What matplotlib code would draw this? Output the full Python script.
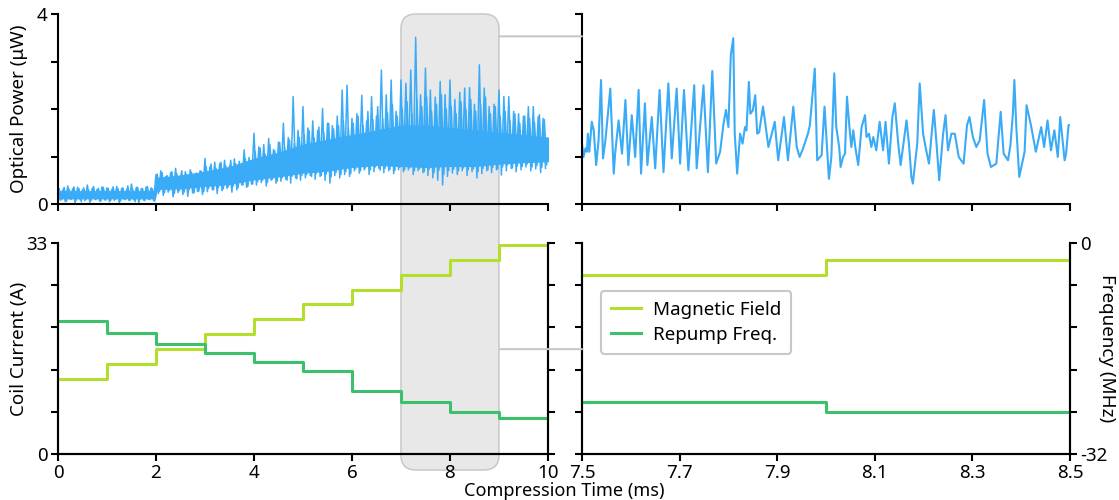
import numpy as np
import matplotlib
matplotlib.use("Agg")
import matplotlib.pyplot as plt
from matplotlib.patches import FancyBboxPatch, ConnectionPatch

plt.rcParams["font.family"] = ["Noto Sans", "DejaVu Sans"]
plt.rcParams["font.size"] = 13

BLUE = "#3aabf7"
LIME = "#b4de2c"
GREEN = "#3dc06c"
GREY = "#c8c8c8"

# ---- optical power, full 0-10 ms trace ----
# solid core of the noisy band
core_t = [0.0, 1.0, 1.98, 2.02, 2.5, 3.0, 3.5, 4.0, 4.5, 5.0, 5.5, 6.0, 6.5, 7.0, 7.5, 8.0, 8.5, 9.0, 9.5, 10.0]
core_lo = [0.12, 0.12, 0.12, 0.32, 0.33, 0.38, 0.42, 0.52, 0.58, 0.66, 0.70, 0.78, 0.82, 0.80, 0.78, 0.80, 0.80, 0.85, 0.88, 0.90]
core_hi = [0.27, 0.27, 0.27, 0.55, 0.60, 0.68, 0.78, 0.95, 1.08, 1.25, 1.35, 1.45, 1.55, 1.65, 1.65, 1.60, 1.55, 1.50, 1.45, 1.40]

# big spike extremes every 0.1 ms (highs) and half-way between (lows)
spike_hi = [
    0.33, 0.30, 0.38, 0.32, 0.35, 0.30, 0.40, 0.33, 0.31, 0.36,
    0.34, 0.31, 0.37, 0.33, 0.30, 0.42, 0.35, 0.32, 0.36, 0.34,
    0.62, 0.70, 0.58, 0.66, 0.75, 0.60, 0.68, 0.72, 0.63, 0.70,
    0.96, 0.78, 0.88, 0.85, 0.92, 0.80, 0.95, 0.90, 1.14, 0.98,
    1.49, 1.20, 1.25, 1.38, 1.15, 1.30, 1.70, 1.40, 2.26, 1.55,
    2.05, 1.60, 1.75, 1.55, 2.01, 1.70, 1.65, 1.85, 2.40, 2.50,
    1.80, 1.90, 2.29, 1.75, 2.26, 1.85, 2.82, 2.30, 2.61, 1.95,
    2.61, 2.54, 2.82, 3.51, 2.30, 2.86, 2.40, 2.25, 2.58, 2.30,
    2.61, 2.20, 2.35, 2.44, 2.45, 2.10, 2.93, 2.44, 2.05, 2.10,
    2.40, 2.26, 2.26, 1.95, 1.90, 1.85, 2.05, 2.05, 1.84, 1.80,
]
spike_lo = [
    0.08, 0.05, 0.10, 0.02, 0.09, 0.07, 0.03, 0.10, 0.06, 0.09,
    0.05, 0.08, 0.03, 0.10, 0.07, 0.09, 0.02, 0.08, 0.10, 0.07,
    0.22, 0.18, 0.25, 0.15, 0.24, 0.20, 0.16, 0.23, 0.26, 0.20,
    0.26, 0.30, 0.22, 0.28, 0.33, 0.25, 0.30, 0.40, 0.35, 0.42,
    0.40, 0.45, 0.38, 0.50, 0.44, 0.48, 0.52, 0.44, 0.55, 0.50,
    0.55, 0.60, 0.52, 0.58, 0.50, 0.44, 0.60, 0.55, 0.62, 0.58,
    0.70, 0.65, 0.72, 0.62, 0.68, 0.75, 0.66, 0.70, 0.64, 0.72,
    0.68, 0.72, 0.62, 0.70, 0.66, 0.60, 0.55, 0.50, 0.40, 0.58,
    0.65, 0.62, 0.70, 0.60, 0.68, 0.55, 0.64, 0.70, 0.66, 0.72,
    0.61, 0.70, 0.75, 0.68, 0.72, 0.78, 0.70, 0.74, 0.66, 0.75,
]
# smaller ripple on the band edges, offset by a quarter step
ripple_hi = [
    0.32, 0.35, 0.31, 0.36, 0.33, 0.34, 0.30, 0.37, 0.33, 0.35,
    0.33, 0.36, 0.32, 0.34, 0.38, 0.31, 0.35, 0.33, 0.37, 0.32,
    0.63, 0.66, 0.60, 0.68, 0.64, 0.70, 0.62, 0.67, 0.65, 0.69,
    0.78, 0.84, 0.75, 0.88, 0.80, 0.92, 0.85, 0.82, 0.95, 0.90,
    1.10, 1.18, 1.05, 1.25, 1.12, 1.30, 1.20, 1.35, 1.28, 1.40,
    1.45, 1.55, 1.40, 1.62, 1.50, 1.70, 1.58, 1.65, 1.75, 1.60,
    1.70, 1.85, 1.65, 1.95, 1.78, 2.05, 1.80, 1.92, 2.10, 1.85,
    2.00, 2.15, 1.90, 2.20, 2.05, 2.25, 1.95, 2.10, 2.30, 2.00,
    2.05, 1.90, 2.15, 2.00, 2.20, 1.95, 2.10, 2.25, 1.90, 2.05,
    1.85, 1.95, 1.75, 1.90, 1.70, 1.85, 1.80, 1.72, 1.88, 1.78,
]
ripple_lo = [
    0.09, 0.06, 0.10, 0.08, 0.05, 0.10, 0.07, 0.09, 0.06, 0.08,
    0.07, 0.10, 0.06, 0.09, 0.08, 0.05, 0.10, 0.07, 0.09, 0.06,
    0.27, 0.24, 0.29, 0.22, 0.28, 0.25, 0.30, 0.23, 0.27, 0.26,
    0.33, 0.30, 0.35, 0.32, 0.36, 0.38, 0.34, 0.40, 0.37, 0.42,
    0.47, 0.50, 0.45, 0.52, 0.48, 0.55, 0.50, 0.58, 0.53, 0.60,
    0.62, 0.58, 0.65, 0.60, 0.63, 0.57, 0.66, 0.62, 0.68, 0.64,
    0.74, 0.70, 0.76, 0.72, 0.78, 0.71, 0.75, 0.73, 0.70, 0.77,
    0.72, 0.76, 0.70, 0.74, 0.68, 0.73, 0.66, 0.71, 0.62, 0.70,
    0.73, 0.70, 0.76, 0.72, 0.74, 0.68, 0.75, 0.72, 0.77, 0.74,
    0.78, 0.82, 0.76, 0.80, 0.79, 0.84, 0.78, 0.81, 0.77, 0.83,
]

# ---- optical power, zoomed 7.5-8.5 ms trace ----
zoom_t = [
    7.500, 7.503, 7.507, 7.510, 7.512, 7.515, 7.520, 7.524, 7.529, 7.534,
    7.539, 7.543, 7.548, 7.558, 7.565, 7.568, 7.575, 7.582, 7.589, 7.595,
    7.602, 7.609, 7.616, 7.621, 7.629, 7.634, 7.643, 7.650, 7.659, 7.667,
    7.677, 7.684, 7.694, 7.701, 7.709, 7.718, 7.730, 7.735, 7.749, 7.758,
    7.767, 7.775, 7.783, 7.790, 7.795, 7.800, 7.805, 7.810, 7.813, 7.818,
    7.824, 7.829, 7.834, 7.837, 7.842, 7.845, 7.850, 7.855, 7.859, 7.863,
    7.871, 7.882, 7.895, 7.902, 7.914, 7.922, 7.933, 7.940, 7.946, 7.953,
    7.963, 7.967, 7.977, 7.982, 7.991, 7.997, 8.006, 8.011, 8.017, 8.021,
    8.027, 8.030, 8.035, 8.039, 8.043, 8.048, 8.052, 8.056, 8.060, 8.066,
    8.073, 8.080, 8.083, 8.088, 8.093, 8.097, 8.103, 8.110, 8.117, 8.122,
    8.129, 8.136, 8.141, 8.148, 8.153, 8.165, 8.170, 8.175, 8.178, 8.187,
    8.192, 8.199, 8.204, 8.211, 8.221, 8.226, 8.232, 8.240, 8.245, 8.250,
    8.257, 8.264, 8.272, 8.282, 8.289, 8.294, 8.301, 8.308, 8.315, 8.324,
    8.331, 8.338, 8.349, 8.358, 8.364, 8.373, 8.378, 8.383, 8.386, 8.390,
    8.396, 8.407, 8.411, 8.420, 8.430, 8.441, 8.447, 8.454, 8.461, 8.468,
    8.475, 8.480, 8.489, 8.492, 8.497, 8.500,
]
zoom_p = [
    1.27, 0.99, 1.17, 1.10, 1.48, 1.10, 1.73, 1.55, 0.82, 1.34,
    2.61, 0.96, 1.34, 2.43, 0.64, 1.07, 1.76, 1.06, 2.19, 0.82,
    1.87, 0.99, 2.40, 0.64, 2.12, 0.82, 1.83, 0.75, 2.40, 0.67,
    2.54, 0.96, 2.43, 0.85, 2.40, 0.71, 2.50, 0.75, 2.50, 0.67,
    2.80, 0.85, 1.10, 1.69, 1.98, 1.62, 3.14, 3.49, 1.48, 0.64,
    1.48, 1.27, 1.62, 1.55, 2.57, 1.90, 1.97, 2.29, 1.48, 1.51,
    2.05, 1.20, 1.73, 0.92, 1.83, 0.92, 2.05, 1.20, 0.99, 1.17,
    1.48, 1.66, 2.85, 0.92, 1.03, 2.05, 0.53, 0.99, 2.75, 1.62,
    1.20, 0.78, 0.99, 1.06, 2.26, 1.62, 1.20, 1.55, 1.20, 0.82,
    1.62, 1.87, 1.41, 1.48, 1.20, 1.41, 1.13, 1.73, 1.13, 1.73,
    0.85, 1.83, 2.12, 1.27, 0.82, 1.76, 1.27, 0.57, 0.43, 1.27,
    2.54, 1.48, 1.20, 0.85, 1.98, 1.34, 0.50, 1.48, 1.87, 1.13,
    1.48, 1.48, 0.99, 0.85, 1.66, 1.83, 1.41, 1.20, 1.34, 2.19,
    1.06, 0.78, 0.85, 1.94, 1.06, 0.92, 1.24, 1.91, 2.61, 1.62,
    0.57, 1.10, 2.08, 1.66, 1.10, 1.62, 1.20, 1.76, 1.13, 1.55,
    0.99, 1.83, 0.92, 1.06, 1.66, 1.66,
]

# ---- control sequences, one value per 1 ms step ----
step_t = [0, 1, 2, 3, 4, 5, 6, 7, 8, 9, 10]
coil_current = [11.7, 14.0, 16.4, 18.7, 21.1, 23.4, 25.7, 28.0, 30.3, 32.65]
repump_freq = [-11.9, -13.6, -15.3, -16.7, -18.1, -19.4, -22.4, -24.1, -25.7, -26.5]

zoom_range = (7, 9)
FS = 13.5

fig = plt.figure(figsize=(11.19, 5.0), dpi=100)
ax_tl = fig.add_axes([0.0518, 0.592, 0.4379, 0.380])
ax_tr = fig.add_axes([0.5201, 0.592, 0.4361, 0.380])
ax_bl = fig.add_axes([0.0518, 0.092, 0.4379, 0.422])
ax_br = fig.add_axes([0.5201, 0.092, 0.4361, 0.422])
tw_bl = ax_bl.twinx()
tw_br = ax_br.twinx()

for ax in [ax_tl, ax_tr, ax_bl, ax_br, tw_bl, tw_br]:
    ax.set_facecolor("none")
    for s in ax.spines.values():
        s.set_linewidth(1.5)
    ax.tick_params(width=1.5, length=5, pad=2.5, direction="out", labelsize=FS)
for ax in [ax_tl, ax_tr]:
    ax.spines["top"].set_visible(False)
    ax.spines["right"].set_visible(False)
for ax in [ax_bl, ax_br, tw_bl, tw_br]:
    ax.spines["top"].set_visible(False)

# top left: full trace
hi_t = np.arange(len(spike_hi)) * 0.1
zig_t = np.column_stack([hi_t, hi_t + 0.05]).ravel()
zig_p = np.column_stack([spike_hi, spike_lo]).ravel()
rip_t = np.column_stack([hi_t + 0.025, hi_t + 0.075]).ravel()
rip_p = np.column_stack([ripple_hi, ripple_lo]).ravel()
ax_tl.fill_between(core_t, core_lo, core_hi, color=BLUE, lw=0.8, edgecolor=BLUE)
ax_tl.plot(rip_t, rip_p, color=BLUE, lw=1.1)
ax_tl.plot(zig_t, zig_p, color=BLUE, lw=1.1)
ax_tl.set_xlim(0, 10)
ax_tl.set_ylim(0, 4)
ax_tl.set_xticks(range(0, 11, 2))
ax_tl.set_xticklabels([])
ax_tl.set_yticks([0, 1, 2, 3, 4])
ax_tl.set_yticklabels(["0", "", "", "", "4"])
ax_tl.set_ylabel("Optical Power (μW)", fontsize=FS, va="center")
ax_tl.yaxis.set_label_coords(-0.08, 0.5)

# top right: zoomed trace
ax_tr.plot(zoom_t, zoom_p, color=BLUE, lw=1.5)
ax_tr.set_xlim(7.5, 8.5)
ax_tr.set_ylim(0, 4)
ax_tr.set_xticks(np.arange(7.5, 8.51, 0.2))
ax_tr.set_xticklabels([])
ax_tr.set_yticks([0, 1, 2, 3, 4])
ax_tr.set_yticklabels([])

# bottom: step sequences
freq_ticks = np.linspace(-32, 0, 6)
cur_ticks = np.linspace(0, 33, 6)
for ax, tw, xl in [(ax_bl, tw_bl, (0, 10)), (ax_br, tw_br, (7.5, 8.5))]:
    l1, = ax.step(step_t, coil_current + coil_current[-1:], where="post",
                  color=LIME, lw=2.2, label="Magnetic Field")
    l2, = tw.step(step_t, repump_freq + repump_freq[-1:], where="post",
                  color=GREEN, lw=2.2, label="Repump Freq.")
    ax.set_xlim(*xl)
    ax.set_ylim(0, 33)
    tw.set_ylim(-32, 0)
    ax.set_yticks(cur_ticks)
    tw.set_yticks(freq_ticks)
    tw.set_yticklabels([])

ax_bl.set_yticklabels(["0", "", "", "", "", "33"])
ax_bl.set_ylabel("Coil Current (A)", fontsize=FS, va="center")
ax_bl.yaxis.set_label_coords(-0.08, 0.5)
ax_bl.set_xticks(range(0, 11, 2))
ax_br.set_yticklabels([])
ax_br.set_xticks(np.arange(7.5, 8.51, 0.2))
ax_br.set_xticklabels(["7.5", "7.7", "7.9", "8.1", "8.3", "8.5"])
tw_br.set_yticklabels(["-32", "", "", "", "", "0"])
tw_br.set_ylabel("Frequency (MHz)", rotation=270, va="center", fontsize=FS)
tw_br.yaxis.set_label_coords(1.075, 0.5)

leg = tw_br.legend(handles=[l1, l2], loc="lower left", bbox_to_anchor=(0.02, 0.43),
                   fontsize=FS, frameon=True, fancybox=True, handlelength=1.6,
                   borderpad=0.55, labelspacing=0.35, handletextpad=0.6)
leg.get_frame().set_edgecolor(GREY)
leg.get_frame().set_linewidth(1.5)
leg.get_frame().set_alpha(1)

fig.text(0.504, 0.0, "Compression Time (ms)", ha="center", va="bottom", fontsize=13)

# shaded zoom window spanning both rows
x0 = ax_tl.transData.transform((zoom_range[0], 0))[0]
x1 = ax_tl.transData.transform((zoom_range[1], 0))[0]
y_top = ax_tl.transData.transform((0, 4))[1]
y_bot = ax_bl.transAxes.transform((0, 0))[1] - 16
box = FancyBboxPatch((x0, y_bot), x1 - x0, y_top - y_bot,
                     boxstyle="round,pad=0,rounding_size=15", transform=None,
                     facecolor="#e8e8e8", edgecolor=GREY, lw=1.1, zorder=-1)
fig.patches.append(box)

for a, b, yv in [(ax_tl, ax_tr, 3.53), (ax_bl, ax_br, 16.4)]:
    con = ConnectionPatch(xyA=(zoom_range[1], yv), coordsA=a.transData,
                          xyB=(7.5, yv), coordsB=b.transData,
                          color=GREY, lw=1.5)
    fig.add_artist(con)

fig.savefig("out.png", dpi=100)
